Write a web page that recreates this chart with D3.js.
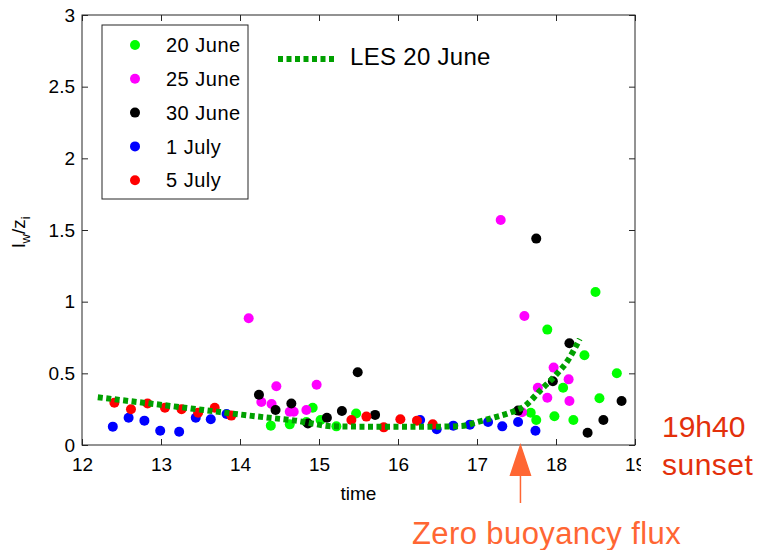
<!DOCTYPE html>
<html>
<head>
<meta charset="utf-8">
<script src="https://cdn.jsdelivr.net/npm/d3@7"></script>
<style>
  body { margin: 0; background: #fff; }
  text { font-family: "Liberation Sans", Arial, Helvetica, sans-serif; }
</style>
</head>
<body>
<svg id="chart" width="757" height="550"></svg>
<script>
/* ------------ Data ----------------*/
const xTicks = [12, 13, 14, 15, 16, 17, 18, 19];
const yTicks = [0, 0.5, 1, 1.5, 2, 2.5, 3];

const seriesNames = ['20 June', '25 June', '30 June', '1 July', '5 July'];
const seriesColors = ['#00ff00', '#ff00ff', '#000000', '#0000ff', '#ff0000'];

// [time, lw/zi]
const june20 = [[14.39, 0.135], [14.63, 0.144], [14.84, 0.16], [14.92, 0.26], [15.02, 0.174],
  [15.22, 0.13], [15.47, 0.22], [17.68, 0.225], [17.75, 0.174], [17.89, 0.805], [17.98, 0.20],
  [18.09, 0.40], [18.22, 0.174], [18.36, 0.626], [18.50, 1.067], [18.55, 0.326], [18.77, 0.50]];
const june25 = [[14.11, 0.884], [14.27, 0.30], [14.40, 0.286], [14.46, 0.41], [14.63, 0.232],
  [14.68, 0.232], [14.84, 0.244], [14.97, 0.42], [17.30, 1.57], [17.57, 0.228], [17.60, 0.90],
  [17.77, 0.40], [17.89, 0.33], [17.97, 0.54], [18.16, 0.458], [18.17, 0.307]];
const june30 = [[14.24, 0.35], [14.45, 0.244], [14.65, 0.29], [14.86, 0.15], [15.10, 0.19],
  [15.29, 0.237], [15.49, 0.507], [15.71, 0.21], [17.52, 0.24], [17.75, 1.44], [17.96, 0.445],
  [18.17, 0.71], [18.40, 0.086], [18.60, 0.174], [18.83, 0.307]];
const july1 = [[12.39, 0.128], [12.59, 0.19], [12.79, 0.17], [12.99, 0.10], [13.23, 0.093],
  [13.44, 0.19], [13.63, 0.18], [13.83, 0.216], [16.28, 0.174], [16.49, 0.11], [16.70, 0.135],
  [16.91, 0.142], [17.14, 0.16], [17.32, 0.13], [17.52, 0.16], [17.74, 0.10]];
const july5 = [[12.41, 0.295], [12.62, 0.25], [12.83, 0.29], [13.05, 0.26], [13.26, 0.25],
  [13.47, 0.225], [13.68, 0.26], [13.89, 0.205], [15.41, 0.174], [15.60, 0.198], [15.82, 0.123],
  [16.03, 0.18], [16.24, 0.17], [16.44, 0.144]];

const lesTime = [12.2, 12.7, 13.2, 13.7, 14.2, 14.7, 15.2, 15.6, 16.0, 16.5, 16.8, 17.0, 17.2,
  17.4, 17.6, 17.8, 18.0, 18.15, 18.3];
const lesValue = [0.333, 0.30, 0.267, 0.233, 0.20, 0.17, 0.13, 0.128, 0.128, 0.128, 0.132, 0.16,
  0.19, 0.222, 0.27, 0.38, 0.49, 0.59, 0.74];

const zeroFluxTime = 17.55;

/* ------------ Chart ----------------*/
const svg = d3.select('#chart');
const x = d3.scaleLinear().domain([12, 19]).range([82, 635]);
const y = d3.scaleLinear().domain([0, 3]).range([445, 15]);
const axisColor = '#262626';

svg.append('defs').append('clipPath')
  .attr('id', 'xclip')
  .append('rect')
  .attr('x', 0).attr('y', -20).attr('width', 641).attr('height', 60);

const styleAxis = (g) => {
  g.select('.domain').remove();
  g.selectAll('line').attr('stroke', axisColor);
  g.selectAll('text').attr('fill', '#000').attr('font-size', '19px')
    .attr('font-family', '"Liberation Sans", Arial, sans-serif');
};

svg.append('g')
  .attr('transform', 'translate(0,445)')
  .attr('clip-path', 'url(#xclip)')
  .call(d3.axisBottom(x).tickValues(xTicks).tickSize(-6).tickPadding(13).tickFormat(d => d))
  .call(styleAxis);
svg.append('g')
  .attr('transform', 'translate(0,15)')
  .call(d3.axisTop(x).tickValues(xTicks).tickSize(-6).tickFormat(''))
  .call(styleAxis);
svg.append('g')
  .attr('transform', 'translate(82,0)')
  .call(d3.axisLeft(y).tickValues(yTicks).tickSize(-6).tickPadding(7).tickFormat(d => d))
  .call(styleAxis);
svg.append('g')
  .attr('transform', 'translate(635,0)')
  .call(d3.axisRight(y).tickValues(yTicks).tickSize(-6).tickFormat(''))
  .call(styleAxis);

svg.append('rect')
  .attr('x', x(12)).attr('y', y(3))
  .attr('width', x(19) - x(12)).attr('height', y(0) - y(3))
  .attr('fill', 'none').attr('stroke', axisColor).attr('stroke-width', 1);

// axis labels
svg.append('text')
  .attr('x', (x(12) + x(19)) / 2).attr('y', 500)
  .attr('text-anchor', 'middle').attr('font-size', '19px')
  .text('time');

const yLabel = svg.append('text')
  .attr('transform', 'translate(25,232) rotate(-90)')
  .attr('text-anchor', 'middle').attr('font-size', '19px');
yLabel.append('tspan').text('l');
yLabel.append('tspan').attr('font-size', '13px').attr('dy', 5).text('w');
yLabel.append('tspan').attr('dy', -5).text('/z');
yLabel.append('tspan').attr('font-size', '13px').attr('dy', 5).text('i');

// points
const allSeries = [june20, june25, june30, july1, july5];
allSeries.forEach((series, i) => {
  svg.append('g')
    .selectAll('circle')
    .data(series)
    .join('circle')
    .attr('cx', d => x(d[0]))
    .attr('cy', d => y(d[1]))
    .attr('r', 5)
    .attr('fill', seriesColors[i]);
});

// LES line
const lesData = lesTime.map((t, i) => [t, lesValue[i]]);
const lesLine = d3.line()
  .x(d => x(d[0]))
  .y(d => y(d[1]))
  .curve(d3.curveMonotoneX);
svg.append('path')
  .datum(lesData)
  .attr('d', lesLine)
  .attr('fill', 'none')
  .attr('stroke', '#00a000')
  .attr('stroke-width', 6)
  .attr('stroke-dasharray', '5,3.5');

// legend
svg.append('rect')
  .attr('x', 102).attr('y', 25).attr('width', 146).attr('height', 174)
  .attr('fill', '#fff').attr('stroke', axisColor).attr('stroke-width', 1);
const legend = svg.append('g')
  .selectAll('g')
  .data(seriesNames)
  .join('g')
  .attr('transform', (d, i) => `translate(135,${45 + i * 33.8})`);
legend.append('circle')
  .attr('r', 5)
  .attr('fill', (d, i) => seriesColors[i]);
legend.append('text')
  .attr('x', 31).attr('dy', '0.36em')
  .attr('font-size', '20px').attr('letter-spacing', 0.5)
  .text(d => d);

svg.append('line')
  .attr('x1', 278).attr('x2', 336).attr('y1', 59).attr('y2', 59)
  .attr('stroke', '#00a000').attr('stroke-width', 6)
  .attr('stroke-dasharray', '5,3.5');
svg.append('text')
  .attr('x', 350).attr('y', 65)
  .attr('font-size', '24px').attr('letter-spacing', 0.3)
  .text('LES 20 June');

// annotations
svg.append('text')
  .attr('x', 662).attr('y', 437)
  .attr('font-size', '30px').attr('fill', '#e3300b')
  .text('19h40');
svg.append('text')
  .attr('x', 662).attr('y', 475)
  .attr('font-size', '30px').attr('letter-spacing', 0.5).attr('fill', '#e3300b')
  .text('sunset');

const ax = x(zeroFluxTime);
svg.append('path')
  .attr('d', `M${ax},443 L${ax - 11},476 L${ax + 11},476 Z`)
  .attr('fill', '#ff6633');
svg.append('line')
  .attr('x1', ax).attr('x2', ax).attr('y1', 476).attr('y2', 503)
  .attr('stroke', '#ff6633').attr('stroke-width', 1.5);
svg.append('text')
  .attr('x', 412).attr('y', 544)
  .attr('font-size', '31px').attr('letter-spacing', 0.4).attr('fill', '#ff6633')
  .text('Zero buoyancy flux');
</script>
</body>
</html>
